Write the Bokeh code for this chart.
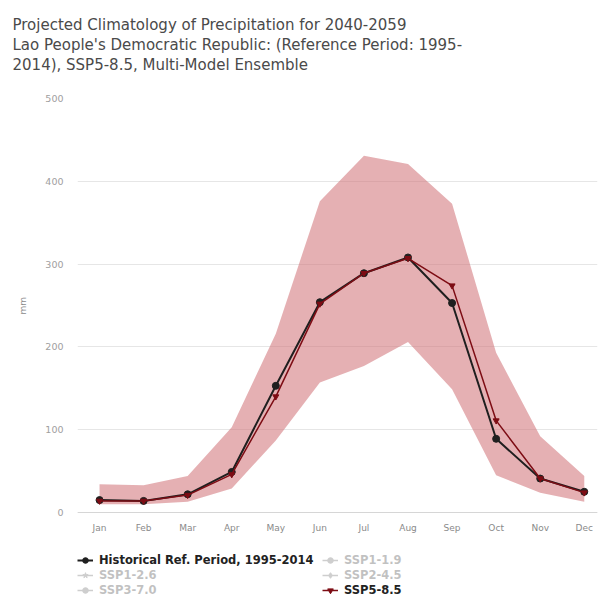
from bokeh.plotting import figure
from bokeh.models import (ColumnDataSource, FixedTicker, Legend, LegendItem, Range1d, Title)
from bokeh.embed import file_html
from bokeh.resources import INLINE

# Monthly precipitation climatology (mm)
months = ["Jan", "Feb", "Mar", "Apr", "May", "Jun", "Jul", "Aug", "Sep", "Oct", "Nov", "Dec"]
historical = [15, 14, 22, 49, 153, 254, 289, 308, 253, 89, 41, 25]
ssp585 = [14, 14, 21, 46, 140, 252, 289, 307, 274, 111, 41, 24]
ssp585_p90 = [34, 33, 44, 103, 216, 376, 431, 421, 373, 193, 92, 44]
ssp585_p10 = [10, 10, 13, 29, 87, 157, 177, 206, 149, 45, 24, 13]
y_ticks = [0, 100, 200, 300, 400, 500]

title_lines = [
    "Projected Climatology of Precipitation for 2040-2059",
    "Lao People's Democratic Republic: (Reference Period: 1995-",
    "2014), SSP5-8.5, Multi-Model Ensemble",
]
hist_label = "Historical Ref. Period, 1995-2014"
scenario_labels = ["SSP1-1.9", "SSP1-2.6", "SSP2-4.5", "SSP3-7.0", "SSP5-8.5"]
y_label = "mm"

W, H = 603, 597
LEFT, RIGHT, TOP = 77, 6, 98
FONT = "DejaVu Sans"
HIST_C, SSP_C = "#1f1f1f", "#7d0c14"

# the frame runs to the bottom edge; the area under zero holds the month
# labels and the legend, so the lower bound leaves 85 px below the zero line
Y_MAX = 500
BELOW_ZERO = 85
px_per_unit = (H - TOP - BELOW_ZERO) / Y_MAX
y_min = -BELOW_ZERO / px_per_unit

x = list(range(len(months)))
src = ColumnDataSource(dict(x=x, hist=historical, ssp=ssp585, lo=ssp585_p10, hi=ssp585_p90))

p = figure(width=W, height=H, output_backend="svg", toolbar_location=None, title=None,
           x_range=Range1d(-0.5, 11.3), y_range=Range1d(y_min, Y_MAX),
           min_border_left=LEFT, min_border_right=RIGHT,
           min_border_top=TOP, min_border_bottom=0)
p.outline_line_color = None
p.border_fill_color = "white"

# title: a blank spacer next to the frame, then the three lines stacked upwards
p.add_layout(Title(text=" ", text_font=FONT, text_font_size="18px", standoff=2), "above")
for line in reversed(title_lines):
    p.add_layout(Title(text=line, align="left", offset=12 - LEFT, standoff=0,
                       text_font=FONT, text_font_size="15px",
                       text_font_style="normal", text_color="#4a4a4a"), "above")

# x axis drawn along the zero line
p.xaxis.fixed_location = 0
p.xaxis.ticker = FixedTicker(ticks=x)
p.xaxis.major_label_overrides = {i: m for i, m in enumerate(months)}
p.xaxis.major_tick_line_color = None
p.xaxis.major_tick_in = 0
p.xaxis.major_tick_out = 0
p.xaxis.minor_tick_line_color = None
p.xaxis.axis_line_color = "#d6d6d6"
p.xaxis.major_label_text_font = FONT
p.xaxis.major_label_text_font_size = "9px"
p.xaxis.major_label_text_color = "#8a8a8a"
p.xaxis.major_label_standoff = 10

p.yaxis.ticker = FixedTicker(ticks=y_ticks)
p.yaxis.major_tick_line_color = None
p.yaxis.major_tick_in = 0
p.yaxis.major_tick_out = 0
p.yaxis.minor_tick_line_color = None
p.yaxis.axis_line_color = None
p.yaxis.major_label_text_font = FONT
p.yaxis.major_label_text_font_size = "9.5px"
p.yaxis.major_label_text_color = "#a0a0a0"
p.yaxis.major_label_standoff = 14

# unit label, centred on the 0-500 span rather than on the whole frame
unit_mid = H - BELOW_ZERO - (Y_MAX / 2) * px_per_unit
p.add_layout(Title(text=y_label, align="left", vertical_align="bottom",
                   offset=H - unit_mid - 9, standoff=30,
                   text_font=FONT, text_font_size="9px", text_font_style="normal",
                   text_color="#8a8a8a"), "left")

p.xgrid.grid_line_color = None
p.ygrid.grid_line_color = "#e6e6e6"

# 10th-90th percentile range of the ensemble
p.varea(x="x", y1="lo", y2="hi", source=src, fill_color="#cf6f74", fill_alpha=0.55)

hist_line = p.line("x", "hist", source=src, line_color=HIST_C, line_width=2)
hist_pts = p.scatter("x", "hist", source=src, marker="circle", size=7,
                     fill_color=HIST_C, line_color=HIST_C)
ssp_line = p.line("x", "ssp", source=src, line_color=SSP_C, line_width=1.5)
ssp_pts = p.scatter("x", "ssp", source=src, marker="inverted_triangle", size=6,
                    fill_color=SSP_C, line_color=SSP_C)

# scenarios switched off: hidden renderers without values, greyed in the legend
off_src = ColumnDataSource(dict(x=[0], y=[float("nan")]))
off_markers = {"SSP1-1.9": "circle", "SSP1-2.6": "star", "SSP2-4.5": "diamond",
               "SSP3-7.0": "circle"}
off = {}
for name, mk in off_markers.items():
    ln = p.line("x", "y", source=off_src, line_color="#505050", line_width=1.5, visible=False)
    sc = p.scatter("x", "y", source=off_src, marker=mk, size=7,
                   fill_color="#505050", line_color="#505050", visible=False)
    off[name] = [ln, sc]

items = [
    LegendItem(label=hist_label, renderers=[hist_line, hist_pts]),
    LegendItem(label=scenario_labels[0], renderers=off["SSP1-1.9"]),
    LegendItem(label=scenario_labels[1], renderers=off["SSP1-2.6"]),
    LegendItem(label=scenario_labels[2], renderers=off["SSP2-4.5"]),
    LegendItem(label=scenario_labels[3], renderers=off["SSP3-7.0"]),
    LegendItem(label=scenario_labels[4], renderers=[ssp_line, ssp_pts]),
]
legend = Legend(items=items, orientation="horizontal", ncols=2, click_policy="hide",
                location=(0, 0), margin=0, padding=0, spacing=1,
                glyph_width=16, glyph_height=14, label_height=14, label_standoff=6,
                label_width=222,
                border_line_alpha=0, background_fill_alpha=0,
                inactive_fill_color="white", inactive_fill_alpha=0.72,
                label_text_font=FONT, label_text_font_size="11.5px",
                label_text_font_style="bold", label_text_color="#222222",
                label_text_baseline="middle")
p.add_layout(legend, "center")

open("out.html", "w").write(file_html(p, INLINE))
